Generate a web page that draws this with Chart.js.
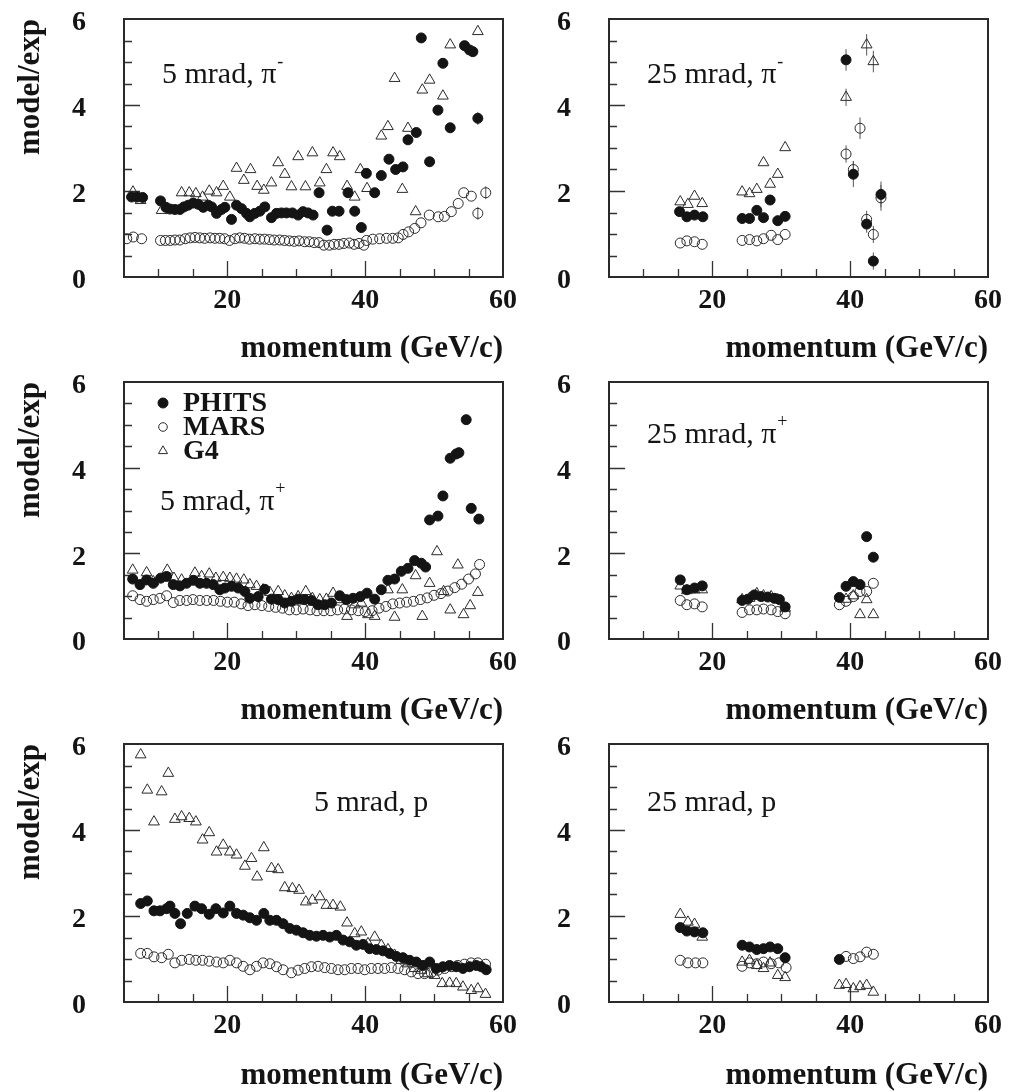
<!DOCTYPE html>
<html><head><meta charset="utf-8">
<script src="https://cdn.jsdelivr.net/npm/chart.js@4.4.1/dist/chart.umd.min.js"></script>
<style>
html,body{margin:0;padding:0;background:#fff;width:1018px;height:1092px;overflow:hidden;position:relative}
canvas{position:absolute}
</style></head><body>
<script>
// ---------------- data ----------------
const SERIES_NAMES = ['PHITS', 'MARS', 'G4'];
const MOMENTUM_TICKS = [20, 40, 60];
const RATIO_TICKS = [0, 2, 4, 6];
const X_TITLE = 'momentum (GeV/c)';
const Y_TITLE = 'model/exp';
const PANEL_TEXT = ['5 mrad, π', '25 mrad, π', '5 mrad, π', '25 mrad, π', '5 mrad, p', '25 mrad, p'];
const PANEL_SUP = ['-', '-', '+', '+', '', ''];

// [momentum, model/exp, error]
const TL_PHITS = [[6.1,1.86],[6.9,1.86],[7.7,1.85],[10.3,1.77],[11.09,1.62],[11.67,1.58],[12.39,1.57],[13.12,1.57],[13.70,1.63],[14.32,1.67],[15.05,1.72],[15.77,1.69],[16.50,1.62],[17.22,1.67],[17.71,1.63],[18.43,1.48],[19.15,1.57],[19.64,1.62],[20.60,1.34],[21.33,1.67],[22.05,1.59],[22.78,1.48],[23.26,1.40],[23.99,1.48],[24.71,1.53],[25.43,1.63],[26.40,1.38],[27.13,1.48],[27.85,1.49],[28.57,1.49],[29.44,1.49],[30.27,1.44],[30.99,1.52],[31.71,1.49],[32.44,1.44],[33.31,1.96],[34.47,1.09],[35.24,1.53],[36.21,1.53],[37.51,1.96],[38.48,1.53],[39.44,1.15],[40.17,2.41],[41.38,1.96],[42.34,2.36],[43.45,2.74],[44.42,2.50],[45.48,2.56],[46.21,3.19],[47.42,3.36],[48.14,5.56],[49.35,2.68],[50.56,3.88],[51.28,4.97],[52.34,3.47],[54.42,5.38],[55.14,5.28],[55.63,5.24],[56.35,3.69,0.15]];
const TL_MARS = [[5.4,0.89],[6.35,0.93],[7.56,0.89],[10.3,0.85],[11.0,0.85],[11.7,0.85],[12.4,0.86],[13.1,0.86],[13.9,0.89],[14.6,0.91],[15.3,0.92],[16.0,0.91],[16.7,0.90],[17.5,0.91],[18.2,0.90],[18.9,0.90],[19.6,0.89],[20.3,0.85],[21.1,0.89],[21.8,0.91],[22.5,0.90],[23.2,0.88],[24.0,0.89],[24.7,0.88],[25.4,0.88],[26.1,0.87],[26.8,0.86],[27.6,0.86],[28.3,0.85],[29.0,0.84],[29.7,0.83],[30.4,0.84],[31.2,0.82],[31.9,0.82],[32.6,0.80],[33.3,0.80],[34.0,0.74],[34.8,0.74],[35.5,0.76],[36.2,0.76],[36.9,0.78],[37.7,0.79],[38.4,0.76],[39.1,0.78],[39.8,0.74],[40.2,0.85],[41.1,0.88],[42.1,0.89],[43.1,0.90],[44.0,0.90],[44.8,0.91],[45.5,0.99],[46.3,1.05],[47.2,1.13],[48.1,1.26],[49.3,1.44],[50.6,1.40],[51.5,1.41],[52.5,1.52],[53.5,1.71],[54.3,1.96],[55.4,1.88],[56.35,1.48,0.15],[57.5,1.96,0.15]];
const TL_G4 = [[6.3,1.98],[7.4,1.78],[10.46,1.55],[13.36,1.96],[14.47,1.96],[15.43,1.94],[16.4,1.86],[17.37,2.0],[18.43,1.96],[19.4,2.11],[20.36,1.86],[21.33,2.53],[22.39,2.25],[23.36,2.5],[24.32,2.11],[25.29,2.02],[26.4,2.19],[27.37,2.66],[28.33,2.39],[29.3,2.10],[30.27,2.80],[31.33,2.10],[32.34,2.89],[33.41,2.19],[34.37,2.50],[35.34,2.89],[36.3,2.80],[37.37,2.11],[38.48,1.86],[39.3,2.50],[40.27,2.06],[42.34,3.28],[43.3,3.50],[44.27,4.62],[45.39,2.04],[46.21,3.46],[47.32,1.52],[48.29,4.35],[49.35,4.58],[51.28,4.21],[52.34,5.40],[56.35,5.71]];

const TR_PHITS = [[15.24,1.52],[16.30,1.40],[17.41,1.44],[18.62,1.40],[24.32,1.36],[25.39,1.36],[26.45,1.55],[27.42,1.38],[28.38,1.79],[29.49,1.31],[30.56,1.41],[39.40,5.05,0.25],[40.46,2.39,0.3],[42.39,1.23,0.2],[43.36,0.37,0.2],[44.47,1.92,0.3]];
const TR_MARS = [[15.34,0.79],[16.30,0.84],[17.41,0.82],[18.53,0.76],[24.32,0.85],[25.39,0.87],[26.45,0.84],[27.42,0.89],[28.53,0.97],[29.49,0.87],[30.56,0.99],[39.40,2.86,0.2],[40.46,2.50,0.2],[41.43,3.46,0.25],[42.39,1.34,0.2],[43.36,0.99,0.2],[44.47,1.84,0.3]];
const TR_G4 = [[15.34,1.75],[16.45,1.69],[17.41,1.88],[18.53,1.71],[24.32,1.98],[25.39,1.94],[26.45,2.04],[27.42,2.66],[28.38,2.16],[29.49,2.39],[30.56,3.01],[39.40,4.18,0.2],[42.39,5.40,0.25],[43.36,5.01,0.25]];

const ML_PHITS = [[6.26,1.40],[7.32,1.27],[8.28,1.38],[9.25,1.30],[10.31,1.42],[11.18,1.46],[12.15,1.27],[13.12,1.24],[14.08,1.30],[15.05,1.37],[16.01,1.30],[16.98,1.30],[17.95,1.27],[18.91,1.15],[19.64,1.19],[20.6,1.23],[21.57,1.19],[22.54,1.11],[23.26,0.95],[24.47,0.99],[25.43,1.16],[26.4,0.93],[27.37,0.92],[28.33,0.84],[29.3,0.88],[30.27,0.93],[31.23,0.92],[32.2,0.90],[33.16,0.80],[34.13,0.80],[35.1,0.84],[36.3,1.01],[37.27,0.92],[38.24,0.95],[39.3,0.99],[40.27,1.07],[41.38,0.93],[42.34,1.15],[43.3,1.37],[44.27,1.40],[45.24,1.58],[46.21,1.65],[47.17,1.83],[48.14,1.77],[48.77,1.68],[49.35,2.78],[50.56,2.87],[51.28,3.34],[52.34,4.22],[53.21,4.32],[53.6,4.35],[54.66,5.12,0.1],[55.39,3.05],[56.5,2.80,0.1]];
const ML_MARS = [[6.26,1.01],[7.32,0.92],[8.28,0.88],[9.25,0.92],[10.22,0.95],[11.18,1.01],[12.15,0.85],[13.1,0.90],[14.1,0.90],[15.0,0.92],[16.0,0.90],[17.0,0.90],[18.0,0.90],[19.0,0.88],[20.0,0.86],[21.0,0.86],[22.0,0.82],[23.0,0.78],[24.0,0.80],[25.0,0.78],[26.0,0.76],[27.0,0.74],[28.0,0.72],[29.0,0.68],[30.0,0.68],[31.0,0.70],[32.0,0.68],[33.0,0.66],[34.0,0.66],[35.0,0.66],[36.0,0.68],[37.0,0.70],[38.0,0.68],[39.0,0.66],[40.0,0.64],[41.0,0.66],[42.0,0.72],[43.0,0.76],[44.0,0.82],[45.0,0.84],[46.0,0.86],[47.0,0.88],[48.0,0.92],[49.0,0.96],[50.0,1.02],[51.0,1.06],[52.0,1.12],[53.0,1.20],[54.0,1.28],[55.0,1.40],[56.0,1.52],[56.6,1.74]];
const ML_G4 = [[6.26,1.61],[8.28,1.55],[9.25,1.34],[11.28,1.61],[12.25,1.42],[13.36,1.38],[15.29,1.54],[16.26,1.46],[17.37,1.52],[18.33,1.42],[19.4,1.44],[20.36,1.42],[21.33,1.40],[22.39,1.38],[23.26,1.27],[24.23,1.23],[25.19,1.15],[26.16,1.09],[27.37,1.11],[28.33,1.01],[29.3,0.95],[30.27,0.99],[31.38,1.11],[32.34,0.95],[33.41,0.92],[34.37,0.93],[35.34,1.07],[36.3,0.92],[37.37,0.53],[38.48,0.80],[39.44,0.84],[40.41,0.57],[41.38,0.53],[43.3,1.15],[44.27,0.51],[45.39,1.15],[47.32,1.48],[48.29,0.53],[49.35,1.30],[50.42,2.04],[51.38,1.11],[52.34,0.68],[53.45,1.73],[54.27,0.57],[55.24,0.78],[56.35,1.09]];

const MR_PHITS = [[15.34,1.38],[16.30,1.15],[17.41,1.19],[18.53,1.24],[24.32,0.90],[25.14,0.93],[26.11,1.03],[27.08,0.99],[28.04,0.98],[29.0,0.95],[29.73,0.92],[30.56,0.75],[38.43,0.97],[39.40,1.23],[40.46,1.34],[41.43,1.27],[42.39,2.39],[43.36,1.91]];
const MR_MARS = [[15.34,0.90],[16.30,0.80],[17.41,0.82],[18.53,0.75],[24.32,0.62],[25.39,0.68],[26.45,0.68],[27.42,0.70],[28.53,0.68],[29.49,0.64],[30.56,0.59],[38.43,0.80],[39.40,0.88],[40.46,0.99],[41.43,1.11],[42.39,1.11],[43.36,1.30]];
const MR_G4 = [[15.34,1.24],[16.30,1.13],[17.41,1.15],[18.53,1.15],[24.32,0.92],[25.39,0.95],[26.45,1.06],[27.42,1.01],[28.53,0.99],[29.49,0.92],[30.56,0.72],[39.40,0.93],[40.46,1.01],[41.43,0.57],[42.39,0.92],[43.36,0.57]];

const BL_PHITS = [[7.42,2.29],[8.38,2.35],[9.35,2.12],[10.22,2.12],[11.18,2.17],[11.67,2.23],[12.39,2.06],[13.21,1.82],[14.18,2.06],[15.29,2.23],[16.26,2.17],[17.37,2.04],[18.33,2.17],[19.40,2.07],[20.36,2.23],[21.33,2.06],[22.29,2.02],[23.26,1.96],[24.23,1.90],[25.29,2.06],[26.16,1.90],[27.13,1.90],[28.09,1.82],[29.06,1.71],[30.02,1.67],[30.99,1.61],[31.96,1.55],[32.92,1.53],[33.89,1.55],[34.86,1.51],[35.82,1.55],[36.79,1.44],[37.75,1.40],[38.72,1.32],[39.69,1.34],[40.65,1.24],[41.62,1.22],[42.58,1.19],[43.55,1.13],[44.52,1.06],[45.48,1.03],[46.45,0.97],[47.42,0.93],[48.38,0.85],[49.35,0.93],[50.31,0.78],[51.28,0.82],[52.25,0.85],[53.21,0.82],[54.18,0.78],[55.14,0.82],[56.11,0.85],[56.84,0.82],[57.56,0.75]];
const BL_MARS = [[7.42,1.13],[8.38,1.13],[9.35,1.05],[10.46,1.03],[11.43,1.11],[12.39,0.91],[13.36,0.97],[14.47,0.99],[15.43,0.97],[16.40,0.97],[17.37,0.95],[18.43,0.93],[19.40,0.91],[20.36,0.97],[21.33,0.91],[22.29,0.83],[23.26,0.75],[24.23,0.83],[25.19,0.91],[26.16,0.89],[27.13,0.82],[28.09,0.75],[29.30,0.68],[30.27,0.74],[31.23,0.78],[32.20,0.82],[33.16,0.83],[34.13,0.80],[35.10,0.78],[36.06,0.75],[37.03,0.75],[37.99,0.78],[38.96,0.78],[39.93,0.75],[40.89,0.78],[41.86,0.78],[42.83,0.78],[43.79,0.80],[44.76,0.78],[45.72,0.75],[46.69,0.70],[47.66,0.66],[48.62,0.66],[49.59,0.68],[50.56,0.74],[51.52,0.78],[52.49,0.82],[53.45,0.85],[54.42,0.88],[55.39,0.91],[56.35,0.91],[57.46,0.88]];
const BL_G4 = [[7.42,5.75],[8.38,4.93],[9.35,4.19],[10.46,4.89],[11.43,5.32],[12.39,4.25],[13.36,4.31],[14.47,4.27],[15.43,4.19],[16.40,3.77],[17.37,3.94],[18.43,3.49],[19.40,3.65],[20.36,3.49],[21.33,3.42],[22.54,3.16],[23.50,3.34],[24.32,2.91],[25.29,3.59],[26.40,3.11],[27.37,3.08],[28.33,2.66],[29.44,2.64],[30.41,2.60],[31.38,2.33],[32.34,2.37],[33.41,2.45],[34.37,2.25],[35.34,2.25],[36.40,2.21],[37.37,1.84],[38.48,1.59],[39.44,1.63],[40.41,1.36],[41.38,1.51],[42.34,1.32],[43.31,1.22],[44.27,1.09],[45.24,0.97],[46.21,0.89],[47.17,0.78],[48.14,0.74],[49.11,0.66],[50.07,0.62],[51.18,0.43],[52.25,0.44],[53.21,0.43],[54.18,0.35],[55.39,0.27],[56.35,0.31],[57.46,0.18]];

const BR_PHITS = [[15.34,1.73],[16.30,1.65],[17.41,1.63],[18.62,1.61],[24.32,1.32],[25.39,1.28],[26.45,1.22],[27.42,1.24],[28.38,1.28],[29.49,1.24],[30.56,1.03],[38.43,0.99]];
const BR_MARS = [[15.34,0.97],[16.45,0.91],[17.56,0.91],[18.62,0.91],[24.32,0.83],[25.39,0.91],[26.45,0.89],[27.42,0.93],[28.53,0.89],[29.64,0.91],[30.70,0.80],[39.40,1.06],[40.46,1.01],[41.43,1.05],[42.39,1.16],[43.36,1.11]];
const BR_G4 = [[15.34,2.04],[16.45,1.86],[17.41,1.81],[18.53,1.51],[24.32,0.93],[25.39,0.97],[26.45,0.85],[27.42,0.78],[28.38,0.91],[29.49,0.62],[30.56,0.57],[38.43,0.39],[39.40,0.41],[40.46,0.31],[41.43,0.36],[42.39,0.39],[43.36,0.23]];

const PANEL_DATA = [
  [TL_PHITS, TL_MARS, TL_G4], [TR_PHITS, TR_MARS, TR_G4],
  [ML_PHITS, ML_MARS, ML_G4], [MR_PHITS, MR_MARS, MR_G4],
  [BL_PHITS, BL_MARS, BL_G4], [BR_PHITS, BR_MARS, BR_G4]
];

// ---------------- layout & style ----------------
const FONT = '"Liberation Serif", "Times New Roman", serif';
const INK = '#141414';
const COLS = [
  {left: 0, width: 530, yw: 124, padR: 27, yTitle: true},
  {left: 509, width: 509, yw: 100, padR: 30, yTitle: false}
];
const ROWS = [
  {top: 0, height: 365, padT: 19, xh: 88},
  {top: 362, height: 365, padT: 20, xh: 88},
  {top: 727, height: 365, padT: 17, xh: 90}
];
const LABEL_POS = [{dx:38,dy:56},{dx:38,dy:56},{dx:36,dy:120},{dx:38,dy:53},{dx:190,dy:59},{dx:38,dy:59}];
const MARKERS = [
  {pointStyle:'circle', pointRadius:5, backgroundColor:INK, borderColor:INK, pointBorderWidth:1},
  {pointStyle:'circle', pointRadius:5, backgroundColor:'rgba(0,0,0,0)', borderColor:'#2a2a2a', pointBorderWidth:1},
  {pointStyle:'triangle', pointRadius:6.2, backgroundColor:'rgba(0,0,0,0)', borderColor:'#2a2a2a', pointBorderWidth:1}
];

function drawMarker(ctx, style, x, y, r) {
  ctx.save();
  ctx.lineWidth = 1;
  ctx.strokeStyle = style.borderColor;
  ctx.fillStyle = style.backgroundColor;
  ctx.beginPath();
  if (style.pointStyle === 'triangle') {
    for (let k = 0; k < 3; k++) {
      const a = k * 2 * Math.PI / 3;
      const px = x + Math.sin(a) * r, py = y - Math.cos(a) * r;
      if (k === 0) ctx.moveTo(px, py); else ctx.lineTo(px, py);
    }
    ctx.closePath();
  } else {
    ctx.arc(x, y, r, 0, Math.PI * 2);
  }
  ctx.fill();
  ctx.stroke();
  ctx.restore();
}

const decoPlugin = {
  id: 'deco',
  beforeDatasetsDraw(chart) {
    const {ctx, chartArea: a, scales: {x, y}} = chart;
    ctx.save();
    ctx.strokeStyle = '#333';
    ctx.lineWidth = 1.3;
    ctx.beginPath();
    for (let v = 0.5; v < 6; v += 0.5) {
      const py = Math.round(y.getPixelForValue(v)) + 0.5;
      const L = (v % 2 === 0) ? 16 : 8;
      ctx.moveTo(a.left, py); ctx.lineTo(a.left + L, py);
    }
    for (let v = 10; v < 60; v += 5) {
      const px = Math.round(x.getPixelForValue(v)) + 0.5;
      const L = (v % 20 === 0) ? 16 : 8;
      ctx.moveTo(px, a.bottom); ctx.lineTo(px, a.bottom - L);
    }
    ctx.stroke();
    // error bars
    ctx.strokeStyle = '#555';
    ctx.lineWidth = 1;
    ctx.beginPath();
    chart.data.datasets.forEach((ds, k) => {
      const meta = chart.getDatasetMeta(k);
      ds.data.forEach((d, j) => {
        if (d.e) {
          const el = meta.data[j];
          ctx.moveTo(el.x, y.getPixelForValue(d.y + d.e));
          ctx.lineTo(el.x, y.getPixelForValue(d.y - d.e));
        }
      });
    });
    ctx.stroke();
    ctx.restore();
  },
  afterDatasetsDraw(chart, args, opts) {
    const {ctx, chartArea: a} = chart;
    ctx.save();
    ctx.strokeStyle = '#2a2a2a';
    ctx.lineWidth = 2;
    ctx.strokeRect(a.left, a.top, a.right - a.left, a.bottom - a.top);
    // panel label
    ctx.fillStyle = INK;
    ctx.textBaseline = 'middle';
    ctx.textAlign = 'left';
    ctx.font = '30px ' + FONT;
    const lx = a.left + opts.dx, ly = a.top + opts.dy;
    ctx.fillText(opts.text, lx, ly);
    if (opts.sup) {
      const w = ctx.measureText(opts.text).width;
      ctx.font = '18px ' + FONT;
      ctx.fillText(opts.sup, lx + w + 1, ly - 13);
    }
    // legend
    if (opts.legend) {
      chart.data.datasets.forEach((ds, k) => {
        const yy = a.top + 21 + 24 * k;
        drawMarker(ctx, MARKERS[k], a.left + 39, yy, k === 2 ? 5.2 : (k === 1 ? 4.3 : 5));
        ctx.fillStyle = INK;
        ctx.font = 'bold 28px ' + FONT;
        ctx.textBaseline = 'middle';
        ctx.fillText(ds.label, a.left + 59, yy + 1);
      });
    }
    ctx.restore();
  }
};

function makePanel(i) {
  const col = COLS[i % 2], row = ROWS[Math.floor(i / 2)];
  const cv = document.createElement('canvas');
  cv.width = col.width; cv.height = row.height;
  cv.style.left = col.left + 'px'; cv.style.top = row.top + 'px';
  document.body.appendChild(cv);
  const datasets = PANEL_DATA[i].map((s, k) => ({
    label: SERIES_NAMES[k],
    data: s.map(p => ({x: p[0], y: p[1], e: p[2] || 0})),
    showLine: false,
    pointStyle: MARKERS[k].pointStyle,
    pointRadius: MARKERS[k].pointRadius,
    pointHoverRadius: MARKERS[k].pointRadius,
    pointBorderWidth: MARKERS[k].pointBorderWidth,
    backgroundColor: MARKERS[k].backgroundColor,
    borderColor: MARKERS[k].borderColor
  }));
  const tickFont = {family: FONT, size: 28, weight: 'bold', lineHeight: 1.2};
  const titleFont = {family: FONT, size: 31, weight: 'bold', lineHeight: 1};
  new Chart(cv, {
    type: 'scatter',
    data: {datasets},
    options: {
      responsive: false, animation: false, devicePixelRatio: 1,
      events: [],
      layout: {autoPadding: false, padding: {left: 0, right: col.padR, top: row.padT, bottom: 0}},
      plugins: {
        legend: {display: false}, tooltip: {enabled: false},
        deco: {text: PANEL_TEXT[i], sup: PANEL_SUP[i], dx: LABEL_POS[i].dx, dy: LABEL_POS[i].dy, legend: i === 2}
      },
      scales: {
        x: {
          type: 'linear', min: 5, max: 60,
          grid: {display: false, drawTicks: false}, border: {display: false},
          afterBuildTicks: s => { s.ticks = MOMENTUM_TICKS.map(v => ({value: v})); },
          afterFit: s => { s.height = row.xh; s.paddingLeft = 0; s.paddingRight = 0; },
          ticks: {font: tickFont, color: INK, padding: 7, maxRotation: 0, autoSkip: false},
          title: {display: true, text: X_TITLE, align: 'end', font: titleFont, color: INK, padding: {top: 0, bottom: 1}}
        },
        y: {
          type: 'linear', min: 0, max: 6,
          grid: {display: false, drawTicks: false}, border: {display: false},
          afterBuildTicks: s => { s.ticks = RATIO_TICKS.map(v => ({value: v})); },
          afterFit: s => { s.width = col.yw; s.paddingTop = 0; s.paddingBottom = 0; },
          ticks: {font: tickFont, color: INK, padding: 38, labelOffset: 4},
          title: {display: col.yTitle, text: Y_TITLE, align: 'end', font: titleFont, color: INK, padding: {top: 15, bottom: 0}}
        }
      }
    },
    plugins: [decoPlugin]
  });
}
for (let i = 0; i < 6; i++) makePanel(i);
</script>
</body></html>
